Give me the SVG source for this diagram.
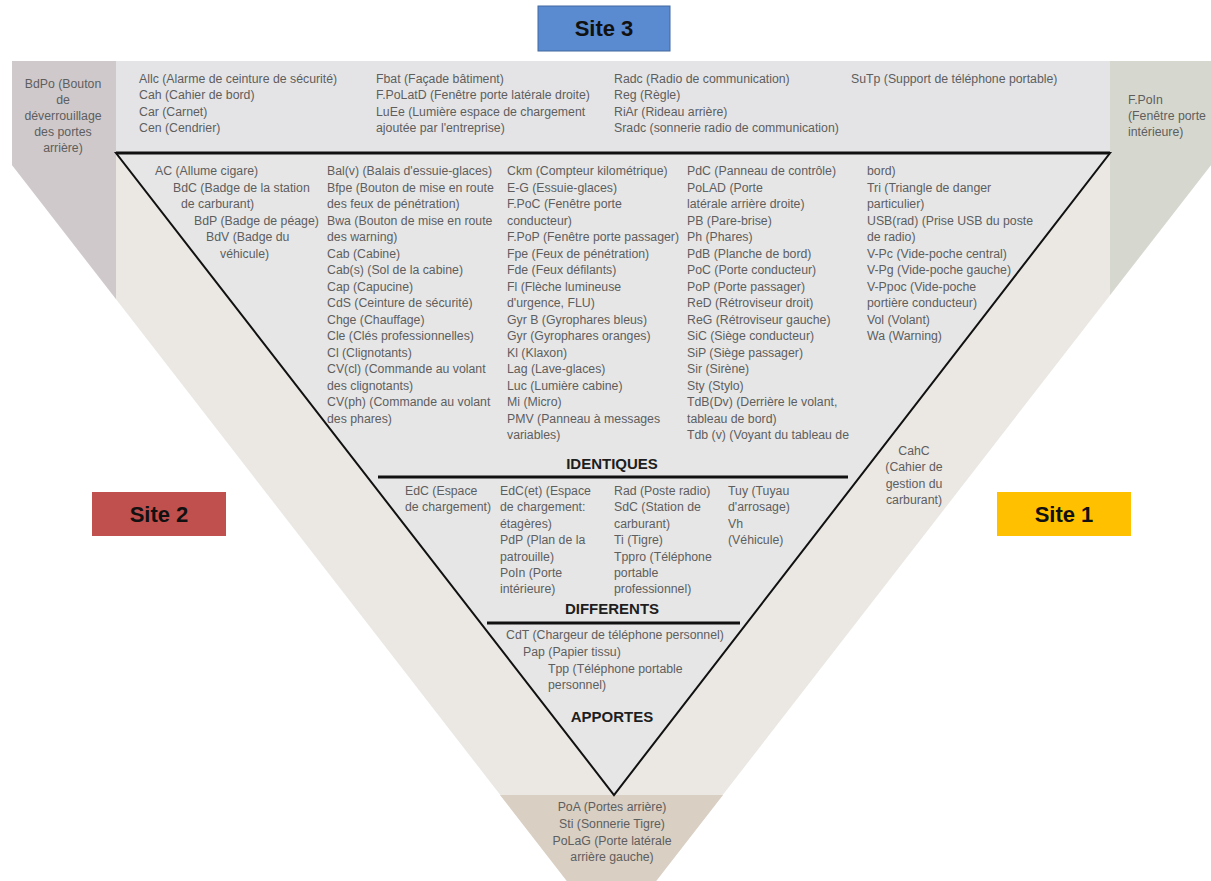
<svg xmlns="http://www.w3.org/2000/svg" width="1211" height="881" viewBox="0 0 1211 881">
<style>
.t{font-family:"Liberation Sans",Arial,sans-serif;font-size:12.3px;fill:#5e5e5e}
.c{text-anchor:middle}
.h{font-family:"Liberation Sans",Arial,sans-serif;font-size:15px;font-weight:bold;fill:#1e1e1e;text-anchor:middle}
.s{font-family:"Liberation Sans",Arial,sans-serif;font-size:22px;font-weight:bold;fill:#111;text-anchor:middle}
.rule{stroke:#111;stroke-width:3}
</style>
<rect width="1211" height="881" fill="#ffffff"/>
<g id="zones">
<polygon id="outer" points="12,61 1211,61 1211,165 611.5,938.5 12,165" fill="#ebe8e4"/>
<rect id="zone-site3" x="116" y="61" width="994" height="92" fill="#e4e4e6"/>
<polygon id="zone-site2-site3" points="12,61 116,61 116,299 12,165" fill="#cfc9cc"/>
<polygon id="zone-site1-site3" points="1110,61 1211,61 1211,165 1110,295" fill="#d6d8cf"/>
<polygon id="zone-site1-site2" points="500,795 723,795 611.5,938.5" fill="#d9cfc3"/>
<polygon id="zone-all" points="116,153 1110,153 614,795" fill="#e6e6e6" stroke="#111" stroke-width="2"/>
<line class="rule" x1="116" y1="153" x2="1110" y2="153"/>
</g>
<g id="connectors">
<line class="rule" x1="378" y1="477" x2="848" y2="477"/>
<line class="rule" x1="487" y1="623" x2="740" y2="623"/>
</g>
<g id="site3"><rect x="538" y="6" width="132" height="45" fill="#5a8ad0" stroke="#41689f"/><text class="s" x="604" y="36">Site 3</text></g>
<g id="site2"><rect x="92" y="492" width="134" height="44" fill="#c0504d"/><text class="s" x="159" y="522">Site 2</text></g>
<g id="site1"><rect x="997" y="492" width="134" height="44" fill="#ffc000"/><text class="s" x="1064" y="522">Site 1</text></g>
<g id="top-band">
<text class="t" x="139" y="83"><tspan x="139">Allc (Alarme de ceinture de sécurité)</tspan><tspan x="139" dy="16.4">Cah (Cahier de bord)</tspan><tspan x="139" dy="16.4">Car (Carnet)</tspan><tspan x="139" dy="16.4">Cen (Cendrier)</tspan></text>
<text class="t" x="376" y="83"><tspan x="376">Fbat (Façade bâtiment)</tspan><tspan x="376" dy="16.4">F.PoLatD (Fenêtre porte latérale droite)</tspan><tspan x="376" dy="16.4">LuEe (Lumière espace de chargement</tspan><tspan x="376" dy="16.4">ajoutée par l'entreprise)</tspan></text>
<text class="t" x="614" y="83"><tspan x="614">Radc (Radio de communication)</tspan><tspan x="614" dy="16.4">Reg  (Règle)</tspan><tspan x="614" dy="16.4">RiAr (Rideau arrière)</tspan><tspan x="614" dy="16.4">Sradc (sonnerie radio de communication)</tspan></text>
<text class="t" x="851" y="83">SuTp (Support de téléphone portable)</text>
</g>
<g id="bdpo"><text class="t c" x="63" y="88"><tspan x="63">BdPo (Bouton</tspan><tspan x="63" dy="16">de</tspan><tspan x="63" dy="16">déverrouillage</tspan><tspan x="63" dy="16">des portes</tspan><tspan x="63" dy="16">arrière)</tspan></text></g>
<g id="fpoin"><text class="t" x="1128" y="104"><tspan x="1128">F.PoIn</tspan><tspan x="1128" dy="16">(Fenêtre porte</tspan><tspan x="1128" dy="16">intérieure)</tspan></text></g>
<g id="identiques-list">
<text class="t" y="175"><tspan x="155">AC (Allume cigare)</tspan><tspan x="173" dy="16.5">BdC (Badge de la station</tspan><tspan x="181" dy="16.5">de carburant)</tspan><tspan x="194" dy="16.5">BdP (Badge de péage)</tspan><tspan x="206" dy="16.5">BdV (Badge du</tspan><tspan x="220" dy="16.5">véhicule)</tspan></text>
<text class="t" y="175"><tspan x="327">Bal(v) (Balais d'essuie-glaces)</tspan><tspan x="327" dy="16.5">Bfpe (Bouton de mise en route</tspan><tspan x="327" dy="16.5">des feux de pénétration)</tspan><tspan x="327" dy="16.5">Bwa (Bouton de mise en route</tspan><tspan x="327" dy="16.5">des warning)</tspan><tspan x="327" dy="16.5">Cab (Cabine)</tspan><tspan x="327" dy="16.5">Cab(s) (Sol de la cabine)</tspan><tspan x="327" dy="16.5">Cap (Capucine)</tspan><tspan x="327" dy="16.5">CdS (Ceinture de sécurité)</tspan><tspan x="327" dy="16.5">Chge (Chauffage)</tspan><tspan x="327" dy="16.5">Cle (Clés professionnelles)</tspan><tspan x="327" dy="16.5">Cl (Clignotants)</tspan><tspan x="327" dy="16.5">CV(cl) (Commande au volant</tspan><tspan x="327" dy="16.5">des clignotants)</tspan><tspan x="327" dy="16.5">CV(ph) (Commande au volant</tspan><tspan x="327" dy="16.5">des phares)</tspan></text>
<text class="t" y="175"><tspan x="507">Ckm (Compteur kilométrique)</tspan><tspan x="507" dy="16.5">E-G (Essuie-glaces)</tspan><tspan x="507" dy="16.5">F.PoC (Fenêtre porte</tspan><tspan x="507" dy="16.5">conducteur)</tspan><tspan x="507" dy="16.5">F.PoP (Fenêtre porte passager)</tspan><tspan x="507" dy="16.5">Fpe (Feux de pénétration)</tspan><tspan x="507" dy="16.5">Fde (Feux défilants)</tspan><tspan x="507" dy="16.5">Fl (Flèche lumineuse</tspan><tspan x="507" dy="16.5">d'urgence, FLU)</tspan><tspan x="507" dy="16.5">Gyr B (Gyrophares bleus)</tspan><tspan x="507" dy="16.5">Gyr (Gyrophares oranges)</tspan><tspan x="507" dy="16.5">Kl (Klaxon)</tspan><tspan x="507" dy="16.5">Lag (Lave-glaces)</tspan><tspan x="507" dy="16.5">Luc (Lumière cabine)</tspan><tspan x="507" dy="16.5">Mi (Micro)</tspan><tspan x="507" dy="16.5">PMV (Panneau à messages</tspan><tspan x="507" dy="16.5">variables)</tspan></text>
<text class="t" y="175"><tspan x="687">PdC (Panneau de contrôle)</tspan><tspan x="687" dy="16.5">PoLAD (Porte</tspan><tspan x="687" dy="16.5">latérale arrière droite)</tspan><tspan x="687" dy="16.5">PB (Pare-brise)</tspan><tspan x="687" dy="16.5">Ph (Phares)</tspan><tspan x="687" dy="16.5">PdB (Planche de bord)</tspan><tspan x="687" dy="16.5">PoC (Porte conducteur)</tspan><tspan x="687" dy="16.5">PoP (Porte passager)</tspan><tspan x="687" dy="16.5">ReD (Rétroviseur droit)</tspan><tspan x="687" dy="16.5">ReG (Rétroviseur gauche)</tspan><tspan x="687" dy="16.5">SiC (Siège conducteur)</tspan><tspan x="687" dy="16.5">SiP (Siège passager)</tspan><tspan x="687" dy="16.5">Sir (Sirène)</tspan><tspan x="687" dy="16.5">Sty (Stylo)</tspan><tspan x="687" dy="16.5">TdB(Dv) (Derrière le volant,</tspan><tspan x="687" dy="16.5">tableau de bord)</tspan><tspan x="687" dy="16.5">Tdb (v) (Voyant du tableau de</tspan></text>
<text class="t" y="175"><tspan x="867">bord)</tspan><tspan x="867" dy="16.5">Tri (Triangle de danger</tspan><tspan x="867" dy="16.5">particulier)</tspan><tspan x="867" dy="16.5">USB(rad) (Prise USB du poste</tspan><tspan x="867" dy="16.5">de  radio)</tspan><tspan x="867" dy="16.5">V-Pc (Vide-poche central)</tspan><tspan x="867" dy="16.5">V-Pg (Vide-poche gauche)</tspan><tspan x="867" dy="16.5">V-Ppoc (Vide-poche</tspan><tspan x="867" dy="16.5">portière conducteur)</tspan><tspan x="867" dy="16.5">Vol (Volant)</tspan><tspan x="867" dy="16.5">Wa (Warning)</tspan></text>
<text class="h" x="612" y="469">IDENTIQUES</text>
</g>
<g id="differents-list">
<text class="t" y="495"><tspan x="405">EdC (Espace</tspan><tspan x="405" dy="16.4">de chargement)</tspan></text>
<text class="t" y="495"><tspan x="500">EdC(et) (Espace</tspan><tspan x="500" dy="16.4">de chargement:</tspan><tspan x="500" dy="16.4">étagères)</tspan><tspan x="500" dy="16.4">PdP (Plan de la</tspan><tspan x="500" dy="16.4">patrouille)</tspan><tspan x="500" dy="16.4">PoIn (Porte</tspan><tspan x="500" dy="16.4">intérieure)</tspan></text>
<text class="t" y="495"><tspan x="614">Rad (Poste radio)</tspan><tspan x="614" dy="16.4">SdC (Station de</tspan><tspan x="614" dy="16.4">carburant)</tspan><tspan x="614" dy="16.4">Ti (Tigre)</tspan><tspan x="614" dy="16.4">Tppro (Téléphone</tspan><tspan x="614" dy="16.4">portable</tspan><tspan x="614" dy="16.4">professionnel)</tspan></text>
<text class="t" y="495"><tspan x="728">Tuy (Tuyau</tspan><tspan x="728" dy="16.4">d'arrosage)</tspan><tspan x="728" dy="16.4">Vh</tspan><tspan x="728" dy="16.4">(Véhicule)</tspan></text>
<text class="h" x="612" y="614">DIFFERENTS</text>
</g>
<g id="apportes-list">
<text class="t" y="639"><tspan x="506">CdT (Chargeur de téléphone personnel)</tspan><tspan x="523" dy="16.8">Pap (Papier tissu)</tspan><tspan x="548" dy="16.8">Tpp (Téléphone portable</tspan><tspan x="548" dy="16.8">personnel)</tspan></text>
<text class="h" x="612" y="722">APPORTES</text>
</g>
<g id="site1-site2-list"><text class="t c" y="811"><tspan x="612">PoA (Portes arrière)</tspan><tspan x="612" dy="16.8">Sti (Sonnerie Tigre)</tspan><tspan x="612" dy="16.8">PoLaG (Porte latérale</tspan><tspan x="612" dy="16.8">arrière gauche)</tspan></text></g>
<g id="cahc"><text class="t c" y="455"><tspan x="914">CahC</tspan><tspan x="914" dy="16.4">(Cahier de</tspan><tspan x="914" dy="16.4">gestion du</tspan><tspan x="914" dy="16.4">carburant)</tspan></text></g>
</svg>
